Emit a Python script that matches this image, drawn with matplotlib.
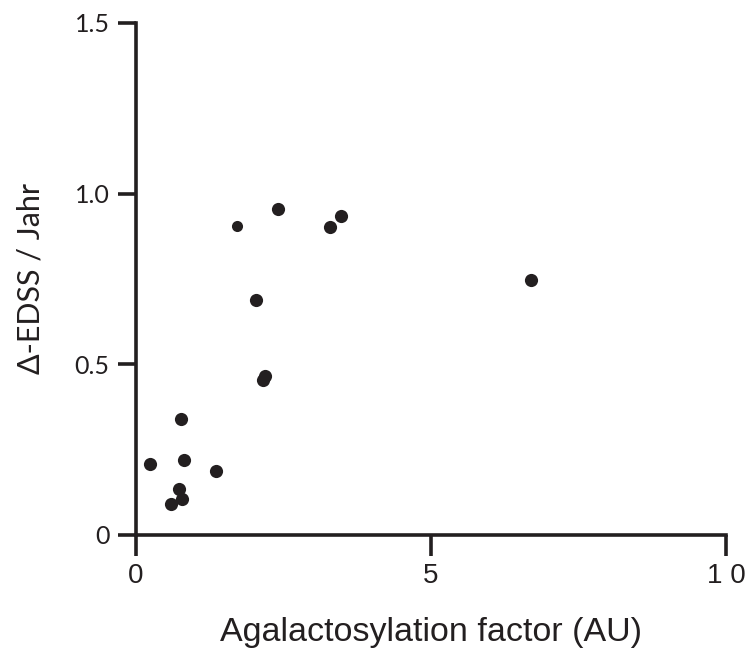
import numpy as np
import matplotlib.pyplot as plt

# agalactosylation factor vs. change in EDSS per year
agal = [0.24, 0.81, 1.35, 0.73, 0.78, 0.59, 0.76, 2.40, 3.28, 3.48,
        2.04, 2.15, 2.19, 6.70]
dedss = [0.208, 0.22, 0.188, 0.135, 0.106, 0.091, 0.34, 0.956, 0.902, 0.936,
         0.689, 0.455, 0.467, 0.748]
# one point drawn a bit smaller
agal_small = [1.72]
dedss_small = [0.905]

xticks = [0, 5, 10]
xticklabels = ['0', '5', '1 0']
yticks = [0, 0.5, 1.0, 1.5]
yticklabels = ['0', '0.5', '1.0', '1.5']

ink = '#231f20'


def main():
    fig = plt.figure(figsize=(7.48, 6.58), dpi=100)
    # axes box: x 136..726 px, y 23..535 px
    ax = fig.add_axes([136 / 748, 1 - 535 / 658, 590 / 748, 512 / 658])

    ax.scatter(agal, dedss, s=90, color=ink, linewidths=0, zorder=3,
               clip_on=False)
    ax.scatter(agal_small, dedss_small, s=64, color=ink, linewidths=0,
               zorder=3, clip_on=False)

    ax.set_xlim(0, 10)
    ax.set_ylim(0, 1.5)
    ax.spines['top'].set_visible(False)
    ax.spines['right'].set_visible(False)
    for sp in ['left', 'bottom']:
        ax.spines[sp].set_linewidth(2.6)
        ax.spines[sp].set_color(ink)
        ax.spines[sp].set_capstyle('projecting')

    ax.set_xticks(xticks)
    ax.set_xticklabels(xticklabels, family='Liberation Sans', fontsize=20,
                       color=ink)
    ax.set_yticks(yticks)
    ax.set_yticklabels(yticklabels, family='Lato', fontsize=18, color=ink)
    ax.tick_params(axis='x', direction='out', length=15, width=2.6,
                   color=ink, pad=5)
    ax.tick_params(axis='y', direction='out', length=13, width=2.6,
                   color=ink, pad=6)

    ax.set_xlabel('Agalactosylation factor (AU)', family='Liberation Sans',
                  fontsize=24.5, color=ink, labelpad=20)
    ax.set_ylabel('\u0394-EDSS / Jahr', family='Lato', fontsize=22,
                  color=ink, labelpad=22)

    fig.savefig('out.png', dpi=100)


if __name__ == "__main__":
    main()
